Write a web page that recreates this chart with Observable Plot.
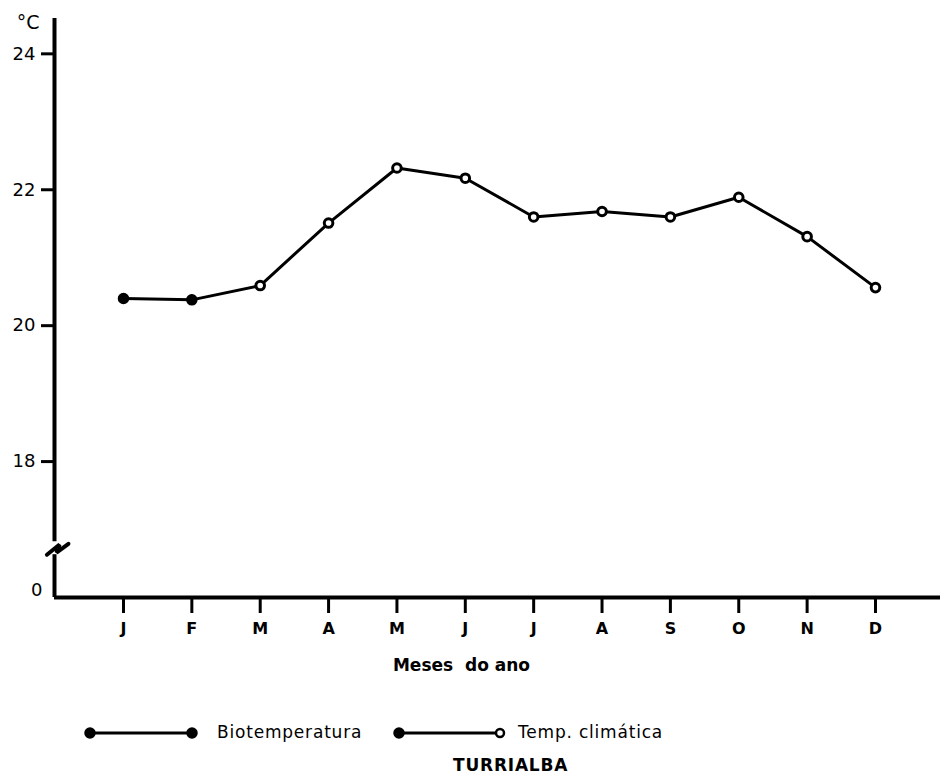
<!DOCTYPE html>
<html>
<head>
<meta charset="utf-8">
<script src="https://cdn.jsdelivr.net/npm/d3@7"></script>
<script src="https://cdn.jsdelivr.net/npm/@observablehq/plot@0.6"></script>
<style>
  body { margin: 0; background: #fff; font-family: "DejaVu Sans", sans-serif; }
  #wrap { position: relative; width: 940px; height: 779px; }
  .leg { position: absolute; font-size: 17px; letter-spacing: 0.8px; color: #000; line-height: 1; white-space: nowrap; }
  .sw { position: absolute; }
  #title { position: absolute; font-size: 17px; font-weight: bold; letter-spacing: 0.8px; }
</style>
</head>
<body>
<div id="wrap"></div>
<script>
// ---- data ----
const months = ["J","F","M","A","M","J","J","A","S","O","N","D"];
const monthIndex = [0,1,2,3,4,5,6,7,8,9,10,11];
const temperature = [20.40,20.38,20.59,21.51,22.32,22.17,21.60,21.68,21.60,21.89,21.31,20.56];
const pointSeries = ["Biotemperatura","Biotemperatura","Temp. climática","Temp. climática","Temp. climática","Temp. climática","Temp. climática","Temp. climática","Temp. climática","Temp. climática","Temp. climática","Temp. climática"];
const yTicks = [18, 20, 22, 24];
const yBreakLabel = "0";
const yUnit = "°C";
const xTitle = "Meses\u00a0\u00a0do ano";
const legendLabels = ["Biotemperatura", "Temp. climática"];
const chartTitle = "TURRIALBA";

// scale extents (axis frame)
const xStart = -1.009, xEnd = 11.951;
const yBottom = 16, yTop = 24.52;
// y-axis break glyph (data units)
const breakX = [-1.120, -0.935, -0.980, -0.805];
const breakY = [16.630, 16.780, 16.660, 16.790];
const axisSegments = [{y1: 16.0, y2: 16.63}, {y1: 16.82, y2: yTop}];

const data = monthIndex.map(i => ({i, t: temperature[i], s: pointSeries[i]}));
const breakPts = breakX.map((x, k) => ({x, y: breakY[k]}));

const chart = Plot.plot({
  width: 940,
  height: 690,
  marginLeft: 54,
  marginRight: 0,
  marginTop: 18,
  marginBottom: 93,
  style: {fontFamily: "DejaVu Sans, sans-serif", color: "#000", background: "#fff", overflow: "visible"},
  x: {domain: [xStart, xEnd]},
  y: {domain: [yBottom, yTop]},
  marks: [
    Plot.axisY({ticks: yTicks, tickSize: 13, tickPadding: 6, strokeWidth: 3, fontSize: 18, tickFormat: d => String(d), label: null}),
    Plot.axisX({ticks: monthIndex, tickSize: 16, tickPadding: 9, strokeWidth: 3, fontSize: 16, fontWeight: "bold", tickFormat: i => months[i], label: null}),
    Plot.ruleY([yBottom], {strokeWidth: 4, stroke: "#000"}),
    Plot.ruleX(axisSegments, {x: () => xStart, y1: "y1", y2: "y2", strokeWidth: 4, stroke: "#000"}),
    Plot.line(breakPts, {x: "x", y: "y", strokeWidth: 4, stroke: "#000", strokeLinejoin: "miter"}),
    Plot.text([yBreakLabel], {x: () => xStart, y: () => 16.1, text: d => d, dx: -12, textAnchor: "end", fontSize: 18}),
    Plot.text([yUnit], {x: () => xStart, y: () => 24.45, text: d => d, dx: -15, textAnchor: "end", fontSize: 19}),
    Plot.text([xTitle], {x: () => 4.944, y: () => 15.0, text: d => d, fontSize: 17, fontWeight: "bold", letterSpacing: "1px"}),
    Plot.line(data, {x: "i", y: "t", stroke: "#000", strokeWidth: 3}),
    Plot.dot(data.filter(d => d.s === legendLabels[0]), {x: "i", y: "t", r: 5, fill: "#000", stroke: "#000"}),
    Plot.dot(data.filter(d => d.s === legendLabels[1]), {x: "i", y: "t", r: 4.3, fill: "#fff", stroke: "#000", strokeWidth: 3})
  ]
});

const wrap = document.getElementById("wrap");
wrap.appendChild(chart);

function swatch(left, top, w, leftFilled, rightFilled) {
  const ns = "http://www.w3.org/2000/svg";
  const s = document.createElementNS(ns, "svg");
  s.setAttribute("class", "sw");
  s.setAttribute("width", w + 14);
  s.setAttribute("height", 14);
  s.style.left = (left - 7) + "px";
  s.style.top = (top - 7) + "px";
  const l = document.createElementNS(ns, "line");
  l.setAttribute("x1", 7); l.setAttribute("x2", w + 7);
  l.setAttribute("y1", 7); l.setAttribute("y2", 7);
  l.setAttribute("stroke", "#000"); l.setAttribute("stroke-width", 3);
  s.appendChild(l);
  [[7, leftFilled], [w + 7, rightFilled]].forEach(([cx, f]) => {
    const c = document.createElementNS(ns, "circle");
    c.setAttribute("cx", cx); c.setAttribute("cy", 7);
    c.setAttribute("r", f ? 4.5 : 4);
    c.setAttribute("fill", f ? "#000" : "#fff");
    c.setAttribute("stroke", "#000"); c.setAttribute("stroke-width", 2.5);
    s.appendChild(c);
  });
  wrap.appendChild(s);
}
swatch(90, 733, 102, true, true);
swatch(399, 733, 101, true, false);

function label(text, left, top) {
  const d = document.createElement("div");
  d.className = "leg";
  d.textContent = text;
  d.style.left = left + "px";
  d.style.top = top + "px";
  wrap.appendChild(d);
}
label(legendLabels[0], 217, 724);
label(legendLabels[1], 518, 724);

const t = document.createElement("div");
t.id = "title";
t.textContent = chartTitle;
t.style.left = "453px";
t.style.top = "755px";
wrap.appendChild(t);
</script>
</body>
</html>
